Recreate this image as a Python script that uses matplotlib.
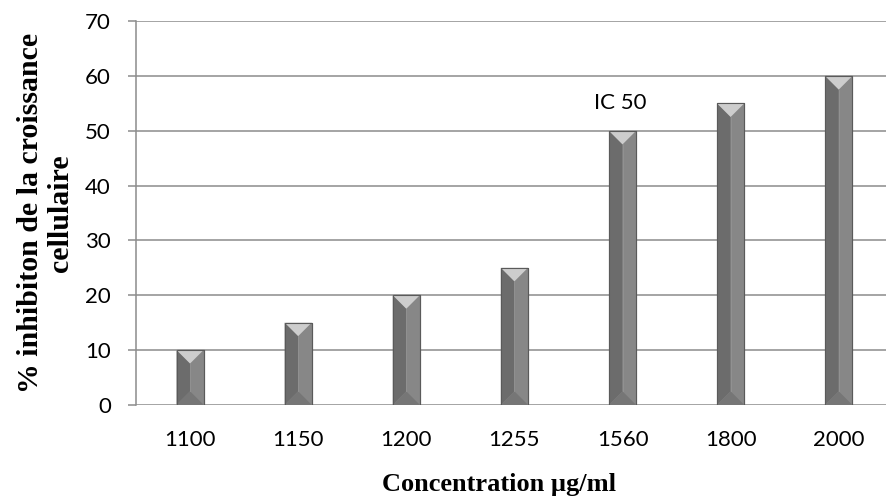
import numpy as np
import matplotlib.pyplot as plt
from matplotlib.patches import Polygon

concentrations = ["1100", "1150", "1200", "1255", "1560", "1800", "2000"]
inhibition = [10, 15, 20, 25, 50, 55, 60]
ic50_label = "IC 50"
ic50_index = 4

fig = plt.figure(figsize=(8.86, 5.0), dpi=100)
ax_rect = [0.1535, 0.1904, 0.8465, 0.767]
ax = fig.add_axes(ax_rect)

ymax = 70
xmax = 6.437
x = np.arange(len(concentrations))
width = 0.25
ax.set_xlim(-0.5, xmax)
ax.set_ylim(0, ymax)

ax.bar(x, inhibition, width=width, color="#888888", edgecolor="#5a5a5a",
       linewidth=0.8, zorder=3)

# bevel depth: half the bar width, converted from x units to y units via pixels
ax_w_px = ax_rect[2] * 886
ax_h_px = ax_rect[3] * 500
half_px = (width / 2) * ax_w_px / (xmax + 0.5)
depth = half_px * ymax / ax_h_px

for xi, v in zip(x, inhibition):
    l, r, c = xi - width / 2, xi + width / 2, xi
    # left face
    ax.add_patch(Polygon([(l, 0), (c, depth), (c, v - depth), (l, v)],
                         closed=True, facecolor="#6c6c6c", edgecolor="none", zorder=4))
    # right face
    ax.add_patch(Polygon([(r, 0), (c, depth), (c, v - depth), (r, v)],
                         closed=True, facecolor="#878787", edgecolor="none", zorder=4))
    # top bevel
    ax.add_patch(Polygon([(l, v), (r, v), (c, v - depth)],
                         closed=True, facecolor="#cdcdcd", edgecolor="none", zorder=4))
    # bottom bevel
    ax.add_patch(Polygon([(l, 0), (r, 0), (c, depth)],
                         closed=True, facecolor="#767676", edgecolor="none", zorder=4))
    ax.plot([c, c], [depth, v - depth], color="#939393", lw=0.6, zorder=5)
    ax.add_patch(plt.Rectangle((l, 0), width, v, facecolor="none",
                               edgecolor="#5a5a5a", lw=0.8, zorder=6))

ax.text(ic50_index - 0.02, inhibition[ic50_index] + 5.1, ic50_label,
        ha="center", va="center", fontsize=16, family="Lato")

ax.set_yticks(np.arange(0, ymax + 1, 10))
ax.set_xticks(x)
ax.set_xticklabels(concentrations)
ax.yaxis.grid(True, color="#8c8c8c", lw=1.1)
ax.set_axisbelow(True)
for s in ["top", "right", "bottom"]:
    ax.spines[s].set_visible(False)
ax.spines["left"].set_color("#8c8c8c")
ax.spines["left"].set_linewidth(1.1)
ax.tick_params(axis="y", length=6, width=1.1, color="#8c8c8c", labelsize=16, pad=12)
ax.tick_params(axis="x", length=0, labelsize=16, pad=18)
for lab in ax.get_xticklabels() + ax.get_yticklabels():
    lab.set_family("Lato")

ax.set_xlabel("Concentration µg/ml", fontsize=19, fontweight="bold",
              family="Liberation Serif")
ax.xaxis.set_label_coords(0.484, -0.178)
ax.set_ylabel("% inhibiton de la croissance\ncellulaire", fontsize=21.5,
              fontweight="bold", family="Liberation Serif", linespacing=1.15)
ax.yaxis.set_label_coords(-0.083, 0.5)

fig.savefig("out.png", dpi=100)
